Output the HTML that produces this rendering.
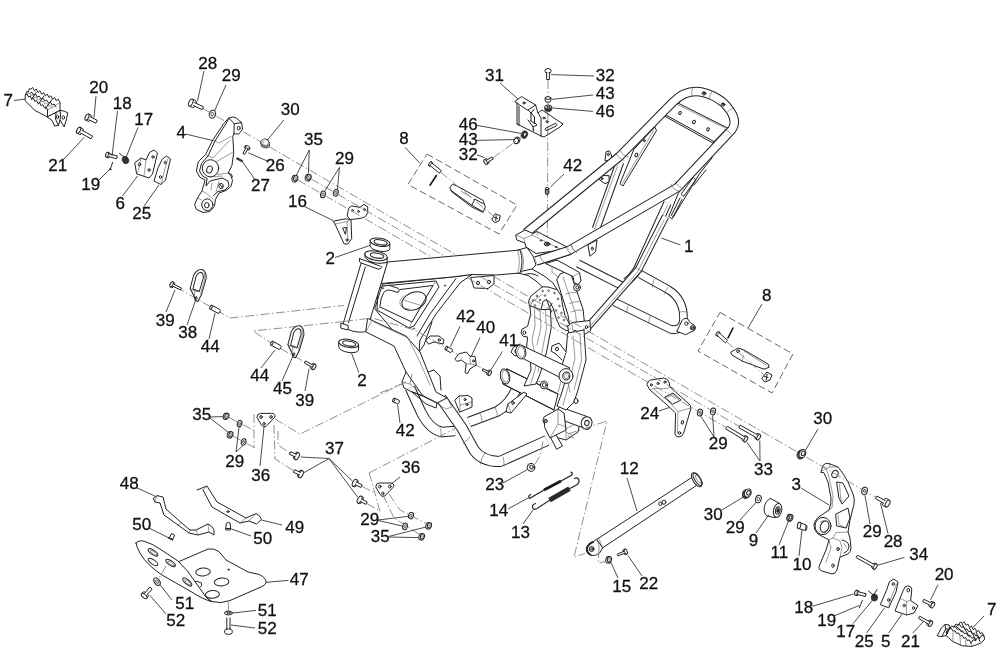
<!DOCTYPE html>
<html><head><meta charset="utf-8"><title>Frame parts diagram</title>
<style>
html,body{margin:0;padding:0;background:#fff;}
body{width:1000px;height:659px;overflow:hidden;font-family:"Liberation Sans",sans-serif;}
svg{display:block;filter:blur(.35px);}
.p{fill:none;stroke:#222;stroke-width:1;stroke-linejoin:round;stroke-linecap:round;}
.pf{fill:#fff;stroke:#222;stroke-width:1;stroke-linejoin:round;stroke-linecap:round;}
.t{fill:none;stroke:#555;stroke-width:.6;stroke-linejoin:round;stroke-linecap:round;}
.t2{fill:none;stroke:#222;stroke-width:.7;}
.k{fill:#333;stroke:#222;stroke-width:.6;}
.c{fill:none;stroke:#7c7c7c;stroke-width:.85;stroke-dasharray:9 2.5 1.5 2.5;}
.d{fill:none;stroke:#555;stroke-width:.9;stroke-dasharray:7 3.5;}
.l{fill:none;stroke:#2a2a2a;stroke-width:.85;}
text{font-family:"Liberation Sans",sans-serif;font-size:17px;fill:#111;stroke:#111;stroke-width:.28px;text-anchor:middle;}
</style></head><body>
<svg width="1000" height="659" viewBox="0 0 1000 659">
<rect width="1000" height="659" fill="#fff"/>
<g id="parts">
<path class="pf" d="M25.4 95 L26.75 91.55 L28.1 92.1 L29.45 88.65 L30.8 89.2 L32.625 87.4313 L34.45 90.8625 L36.275 89.0938 L38.1 92.525 L39.925 90.7562 L41.75 94.1875 L43.575 92.4188 L45.4 95.85 L47.225 94.0812 L49.05 97.5125 L50.875 95.7438 L52.7 99.175 L54.525 97.4062 L56.35 100.838 L58.175 99.0687 L60 102.5 L60 110.4 L52 114.5 L47.5 117 L35 110.5 L25.4 101 Z"/>
<path class="p" d="M25.4 95 L26.9786 93.8714 L28.5571 97.1429 L30.1357 96.0143 L31.7143 99.2857 L33.2929 98.1571 L34.8714 101.429 L36.45 100.3 L38.0286 103.571 L39.6071 102.443 L41.1857 105.714 L42.7643 104.586 L44.3429 107.857 L45.9214 106.729 L47.5 110"/>
<path class="p" d="M30 93.2 L31.8571 92.1857 L33.7143 95.1714 L35.5714 94.1571 L37.4286 97.1429 L39.2857 96.1286 L41.1429 99.1143 L43 98.1 L44.8571 101.086 L46.7143 100.071 L48.5714 103.057 L50.4286 102.043 L52.2857 105.029 L54.1429 104.014 L56 107"/>
<path class="t" d="M27.6 93.5 L29.3429 92.75 L31.0857 95.6 L32.8286 94.85 L34.5714 97.7 L36.3143 96.95 L38.0571 99.8 L39.8 99.05 L41.5429 101.9 L43.2857 101.15 L45.0286 104 L46.7714 103.25 L48.5143 106.1 L50.2571 105.35 L52 108.2"/>
<path class="p" d="M36 92.5 L31.5 99.5"/>
<path class="p" d="M44 96 L38.5 104"/>
<path class="p" d="M52 99.5 L45.5 108.5"/>
<path class="p" d="M47.5 110 L47.5 117"/>
<path class="t" d="M47.5 110 L60 102.5"/>
<path class="pf" d="M52 114.5 L56 112.5 L60 110.4 L64 111 L67.8 112.8 L66.5 119 L64.2 127 L60 120 L58.5 125.5 L54.6 126 L52 120.5 L47.5 117 Z"/>
<path class="p" d="M56 112.5 L55.5 119 L58.5 125.5"/>
<path class="p" d="M60 110.4 L60.5 116 L60 120"/>
<ellipse class="p" cx="57.6" cy="117" rx="1.1" ry="1.7"/>
<ellipse class="p" cx="63.4" cy="117.5" rx="1.2" ry="1.8"/>
<path class="pf" d="M85.5 120.0 L88.2 121.3 A1.5 3.3 27 0 0 91.2 115.4 L88.5 114.0"/>
<ellipse class="pf" cx="87" cy="117" rx="1.65" ry="3.3" transform="rotate(26.5651 87 117)"/>
<path class="pf" d="M89.0 119.8 L95.9 123.2 L97.3 120.4 L90.4 116.9"/>
<path class="pf" d="M77.0 133.1 L79.7 134.5 A1.5 3.3 29 0 0 82.8 128.7 L80.2 127.3"/>
<ellipse class="pf" cx="78.6" cy="130.2" rx="1.65" ry="3.3" transform="rotate(28.6105 78.6 130.2)"/>
<path class="pf" d="M80.5 133.0 L91.0 138.8 L92.6 136.0 L82.0 130.2"/>
<path class="pf" d="M106.4 157.3 L108.3 157.8 A1.2 2.6 14 0 0 109.6 152.8 L107.6 152.3"/>
<ellipse class="pf" cx="107" cy="154.8" rx="1.3" ry="2.6" transform="rotate(14.0362 107 154.8)"/>
<path class="pf" d="M108.6 156.6 L116.7 158.7 L117.3 155.9 L109.3 153.9"/>
<ellipse class="k" cx="125.5" cy="160" rx="3.2" ry="3.8" transform="rotate(-20 125.5 160)"/>
<path class="p" d="M119.5 153.5 L124 157"/>
<path class="p" d="M112.6 162.5 L111.4 166 L110 169.5"/>
<ellipse class="p" cx="110.2" cy="169.3" rx="0.7" ry="0.7"/>
<path class="pf" d="M135 162.5 L141 158 L146 160 L149.5 152.5 L154 150 L157.5 153 L152.5 174 L149 178 L137 174 Z"/>
<path class="t" d="M146 160 L144 176.2 M141 158 L139 168 L137.5 173"/>
<ellipse class="p" cx="139.5" cy="164.5" rx="1.2" ry="1.4"/>
<ellipse class="p" cx="153" cy="157" rx="1.1" ry="1.3"/>
<ellipse class="p" cx="149" cy="170" rx="1.1" ry="1.3"/>
<path class="pf" d="M162.5 159 L166.5 156 L170.5 159 L165.5 180 L161 184.5 L154 181 L158 168 Z"/>
<path class="t" d="M161 184.5 L162.5 178 L167.5 159.5"/>
<ellipse class="p" cx="165.3" cy="162.5" rx="1.1" ry="1.4"/>
<ellipse class="p" cx="160.5" cy="177" rx="1.1" ry="1.4"/>
<path class="pf" d="M189.2 106.0 L192.5 107.6 A1.7 3.8 25 0 0 195.7 100.7 L192.4 99.2"/>
<ellipse class="pf" cx="190.8" cy="102.6" rx="1.9" ry="3.8" transform="rotate(25.0169 190.8 102.6)"/>
<path class="pf" d="M193.4 105.6 L202.1 109.6 L203.5 106.8 L194.7 102.7"/>
<ellipse class="pf" cx="212.4" cy="114.2" rx="3.2" ry="4" transform="rotate(15 212.4 114.2)"/>
<ellipse class="t2" cx="212.4" cy="114.2" rx="1.44" ry="1.8" transform="rotate(15 212.4 114.2)"/>
<path class="c" d="M203 108.5 L260 141.4"/>
<path class="pf" d="M228.8 118.2 L233.2 116.9 L236.5 118.2 L241.6 122.6 L242.6 129.1 L238.7 134.1 L233.9 133.7 L232.8 136.4 L233.7 152.8 L231.9 165.6 L228.3 172.9 L231 176 L232.5 180.5 L231 186.5 L226 190.5 L219 193 L215.5 199.3 L214.5 206 L210 211.5 L203 212.5 L196.4 209.3 L194.6 204.7 L197.5 198 L201.9 191 L204 184 L205 180 L200 177.4 L196.4 171 L198.2 161.9 L205.5 154.6 L212.8 140 L223.7 123.7 Z"/>
<path class="p" d="M228.8 118.2 L226 123.5 L215 141 L208 156 L201.5 163.5 L199.5 171 L202.5 176 L207 178.5"/>
<path class="p" d="M228.8 118.2 L234.3 123.7 L241.6 122.6 M234.3 123.7 L233.9 133.7"/>
<path class="t" d="M212.8 140 L219 143 L231 136.5 M205.5 154.6 L213 158 L229 141"/>
<ellipse class="pf" cx="210.5" cy="168.3" rx="8.2" ry="8.6"/>
<ellipse class="p" cx="209.5" cy="169.5" rx="2.7" ry="3.6" transform="rotate(20 209.5 169.5)"/>
<path class="t" d="M216 162 L233 152 M217.5 174.5 L228.3 172.9 M210 177 L222 176"/>
<ellipse class="p" cx="238.7" cy="128.2" rx="1.5" ry="1.9"/>
<path class="p" d="M207 178.5 L206 186 L210 181 L222 178 L228 181 L229 186 L225 190 L218 191.5 L213.5 195.5"/>
<path class="t" d="M212 183 L211 190 M219 181 L216 192"/>
<ellipse class="p" cx="221" cy="186" rx="2.2" ry="2.6"/>
<path class="p" d="M219.5 184 L222.5 188"/>
<ellipse class="pf" cx="207.3" cy="204.7" rx="5.6" ry="5.8"/>
<ellipse class="p" cx="206.8" cy="205.2" rx="2.3" ry="2.7"/>
<path class="t" d="M201.9 191 L206 193 L213 199 M197.5 198 L201.5 200"/>
<path class="p" d="M228.5 173 L231.5 174.5 L232.5 177"/>
<path class="pf" d="M260.6 141.5 A4.6 4.6 0 0 1 269.2 142.5 L269.6 146.6 L266 148 L262 146.6 Z"/>
<path d="M260.8 142.5 L262.5 144.5 L266.2 145.6 L269.2 143 L269.6 146.6 L266 148 L262 146.6 Z" fill="#8a8a8a"/>
<path d="M261 141 A4.4 4.4 0 0 1 265 139 L263.5 144.5 Z" fill="#c8c8c8"/>
<path class="t" d="M260.6 141.5 L262.5 144.5 L266.2 145.6 L269.2 142.5 M262.5 144.5 L262 146.6 M266.2 145.6 L266 148"/>
<path class="pf" d="M245.3 145.9 L244.6 147.1 A1.2 2.6 120 0 0 249.2 149.7 L249.9 148.5"/>
<ellipse class="pf" cx="247.6" cy="147.2" rx="1.3" ry="2.6" transform="rotate(119.56 247.6 147.2)"/>
<path class="pf" d="M246.0 147.9 L242.9 153.4 L244.7 154.4 L247.8 148.9"/>
<path class="k" d="M237.2 157.6 L242.8 160.6 L242 162 L236.4 159 Z"/>
<ellipse class="pf" cx="294.7" cy="178.7" rx="2.72" ry="3.4" transform="rotate(15 294.7 178.7)"/>
<ellipse class="pf" cx="295.7" cy="178.2" rx="2.108" ry="2.72" transform="rotate(15 295.7 178.2)"/>
<ellipse class="t" cx="296" cy="178.1" rx="1.02" ry="1.36" transform="rotate(15 296 178.1)"/>
<ellipse class="pf" cx="308" cy="177.7" rx="2.72" ry="3.4" transform="rotate(15 308 177.7)"/>
<ellipse class="pf" cx="309" cy="177.2" rx="2.108" ry="2.72" transform="rotate(15 309 177.2)"/>
<ellipse class="t" cx="309.3" cy="177.1" rx="1.02" ry="1.36" transform="rotate(15 309.3 177.1)"/>
<ellipse class="pf" cx="323" cy="194.4" rx="2.4" ry="3.4" transform="rotate(15 323 194.4)"/>
<ellipse class="t2" cx="323" cy="194.4" rx="1.08" ry="1.53" transform="rotate(15 323 194.4)"/>
<ellipse class="pf" cx="335.8" cy="192.8" rx="2.4" ry="3.4" transform="rotate(15 335.8 192.8)"/>
<ellipse class="t2" cx="335.8" cy="192.8" rx="1.08" ry="1.53" transform="rotate(15 335.8 192.8)"/>
<path class="pf" d="M347.2 215.8 L348.7 208.2 L351.7 205.9 L360 207.4 L363.9 204.4 L367.7 206.7 L367.7 212.8 L365.4 216.6 L362.4 218 L351 219.6 Z"/>
<path class="pf" d="M333.5 221.1 L345.7 218.8 L351 219.6 L351.7 238.6 L347.9 243.9 L344.1 243.9 L335 224.1 Z"/>
<path class="t" d="M335 224.1 L347 221.5 L351 219.6 M347 221.5 L348 240"/>
<ellipse class="p" cx="352.5" cy="210.5" rx="0.9" ry="1.1"/>
<ellipse class="p" cx="358.5" cy="211.5" rx="0.9" ry="1.1"/>
<ellipse class="p" cx="364.5" cy="209.5" rx="0.9" ry="1.1"/>
<path class="p" d="M343 228 L346.5 227.5 L345.5 234 Z"/>
<ellipse class="p" cx="347" cy="240" rx="1" ry="1.2"/>
<path class="d" d="M427 154 L517 205 L499 234 L408 184.5 Z"/>
<path class="pf" d="M428.8 165.5 L429.7 166.2 A1.0 2.3 39 0 0 432.6 162.7 L431.6 161.9"/>
<ellipse class="pf" cx="430.2" cy="163.7" rx="1.15" ry="2.3" transform="rotate(38.7966 430.2 163.7)"/>
<path class="pf" d="M430.1 165.7 L439.4 173.1 L441.4 170.7 L432.1 163.2"/>
<path d="M436.4 175.5 L430 185.2" stroke="#111" stroke-width="1.6" fill="none" stroke-linecap="round"/>
<path class="pf" d="M450 187.5 L452.4 184.3 L457 186 L483 200.4 L485.3 206.8 L483 212.4 L471.6 206.8 L452.4 192.3 Z"/>
<path class="p" d="M450.8 190.3 L471.8 205.29999999999998 L482.4 211.3 M471.8 205.29999999999998 L474.8 199.1 L483.2 203.7"/>
<path class="t" d="M461.2 191.2 L471.2 197.2"/>
<path class="pf" d="M492.2 218.7 L495.2 213.7 L500.2 215.7 L499.2 220.7 L495.2 222.7 L493.2 221.2 Z"/>
<path class="p" d="M494.2 217.2 L497.7 218.7 M496.2 215.7 L495.7 220.7"/>
<path class="c" d="M440.4 171.9 L494.2 216.7"/>
<path class="c" d="M548 80 L547.3 243"/>
<path class="pf" d="M545 70.2 A3 1.6 0 0 1 551 70.2 L551 71.6 A3 1.6 0 0 1 545 71.6 Z"/>
<path class="pf" d="M546.6 72.5 L546.6 79.5 L549.4 79.5 L549.4 72.5"/>
<path class="pf" d="M545.2 98 L545.2 100.8 A2.8 1.4 0 0 0 550.8 100.8 L550.8 98"/>
<ellipse class="pf" cx="548" cy="98" rx="2.8" ry="1.4"/>
<path class="k" d="M544.6 107 L544.6 109.4 A3.6 2 0 0 0 551.8 109.4 L551.8 107"/>
<ellipse class="pf" cx="548.2" cy="107" rx="3.6" ry="2"/>
<ellipse class="p" cx="548.2" cy="107" rx="1.6" ry="0.9"/>
<path class="pf" d="M515 101.4 L521.6 96.6 L535.6 105 L528 110 Z"/>
<ellipse class="p" cx="524" cy="103" rx="1.3" ry="0.9"/>
<path class="p" d="M517 103 L517 124 L541 136 L544 137 L560 127 L563 124 L542 110 L538 113 L535.6 105"/>
<path class="p" d="M541 136 L541 118 L538 113 M528 110 L531 113 L531 121 M517 124 L519 125.5 L519 106 M531 113 L534 109.5 M531 121 L534.5 123.5 L534.5 117 L531 113"/>
<path class="p" d="M546 128 L555 123.6 A1.3 1.3 0 0 1 556 126 L547 130.4 A1.3 1.3 0 0 1 546 128"/>
<ellipse class="p" cx="544" cy="118" rx="1.2" ry="0.9"/>
<ellipse class="p" cx="547" cy="121.6" rx="1.2" ry="0.9"/>
<path class="p" d="M528 120 L533 127 L537 125 L534 122 M533 127 L533.5 130.5"/>
<path d="M532.5 128 L534.5 131 L533 131.6 Z" fill="#222"/>
<ellipse class="k" cx="524.4" cy="134.6" rx="3.1" ry="3.9" transform="rotate(20 524.4 134.6)"/>
<ellipse class="pf" cx="524.8" cy="134.4" rx="1.5" ry="2" transform="rotate(20 524.8 134.4)"/>
<ellipse class="pf" cx="517.2" cy="140.2" rx="2.6" ry="3.1" transform="rotate(20 517.2 140.2)"/>
<ellipse class="pf" cx="516.2" cy="140.8" rx="2.3" ry="2.8" transform="rotate(20 516.2 140.8)"/>
<path class="pf" d="M486.9 164.3 L488.8 163.3 A1.2 2.7 -30 0 0 486.2 158.6 L484.3 159.7"/>
<ellipse class="pf" cx="485.6" cy="162" rx="1.35" ry="2.7" transform="rotate(-29.7449 485.6 162)"/>
<path class="pf" d="M488.1 162.0 L493.2 159.0 L492.0 157.0 L486.9 159.9"/>
<path class="c" d="M493 157.8 L521 137.5"/>
<path d="M545.4 188.5 L545.4 193.5 A1.7 1 0 0 0 548.8 193.5 L548.8 188.5Z" fill="#888" stroke="#222" stroke-width="1"/>
<ellipse class="pf" cx="547.1" cy="188.5" rx="1.7" ry="1"/>
<path class="pf" d="M605 160.4 L606 151.9 L609.3 150.8 L611.4 155 L612 160 Z"/>
<ellipse class="p" cx="608.3" cy="154.5" rx="0.9" ry="1.4"/>
<path class="pf" d="M599.7 176 L599.7 180 L605 183.7 L609.3 181.6 L609 176 Z"/>
<ellipse class="p" cx="602" cy="178.6" rx="0.9" ry="1.2"/>
<path d="M620 162 L596 229" fill="none" stroke="#222" stroke-width="8.6" stroke-linejoin="round"/>
<path d="M620 162 L596 229" fill="none" stroke="#fff" stroke-width="6.6" stroke-linejoin="round"/>
<path class="t" d="M617.5 166 L594.5 229"/>
<path class="pf" d="M588.3 244.5 L597 240 L595.5 251.7 L590.2 256 Z"/>
<ellipse class="p" cx="592.3" cy="248.5" rx="1" ry="1.5"/>
<path class="pf" d="M655 127.4 L656.5 130.6 L623 186 L620 183.7 L633.7 149.7 Z"/>
<ellipse class="p" cx="644.3" cy="140.6" rx="0.9" ry="1.2"/>
<ellipse class="p" cx="636.3" cy="155" rx="1.3" ry="1.9" transform="rotate(25 636.3 155)"/>
<path class="t" d="M654 130 L622.5 183.5"/>
<path class="pf" d="M675 101.5 L727.5 128 L714 141.5 L664 114 Z"/>
<path class="p" d="M664 115.8 L713 143 L714 141.5"/>
<path class="t" d="M677.5 104.5 L724 127.5"/>
<ellipse class="p" cx="680" cy="113" rx="1.2" ry="1.6" transform="rotate(30 680 113)"/>
<ellipse class="p" cx="694" cy="122" rx="1.3" ry="1.8" transform="rotate(30 694 122)"/>
<ellipse class="p" cx="708" cy="129.4" rx="1.2" ry="1.6" transform="rotate(30 708 129.4)"/>
<path class="pf" d="M712 158 L700 173 L672 219 L668.8 216.6 L678.3 193.3 L700 160 Z"/>
<path class="p" d="M706 170 L694 185 M693 178 A2 2 0 0 1 695.5 180 L684 196 A2 2 0 0 1 681.5 194 Z"/>
<path class="p" d="M680 198 L671.5 215 A1.2 1.2 0 0 0 673.5 216 L682 199.5"/>
<path d="M667.5 203 L637 270 Q633 277 626 282" fill="none" stroke="#222" stroke-width="8.6" stroke-linejoin="round"/>
<path d="M667.5 203 L637 270 Q633 277 626 282" fill="none" stroke="#fff" stroke-width="6.6" stroke-linejoin="round"/>
<path class="t" d="M667.5 205 L640 266"/>
<path d="M526 233 L619.5 156.5 L673 102 C680 95 688 91.5 696 91.5 C706 91.5 720 98 727 106.5 C733 113.5 737 122 732 129.5 L677.5 187.5 L569 250.5 L536 261" fill="none" stroke="#222" stroke-width="9.4" stroke-linejoin="round"/>
<path d="M526 233 L619.5 156.5 L673 102 C680 95 688 91.5 696 91.5 C706 91.5 720 98 727 106.5 C733 113.5 737 122 732 129.5 L677.5 187.5 L569 250.5 L536 261" fill="none" stroke="#fff" stroke-width="7.4" stroke-linejoin="round"/>
<path class="t" d="M615.5 153.5 Q619 159 624 160.5 M619.5 150 Q623 156 628 157"/>
<path class="t" d="M671 184 Q673 190 679.5 191.5 M675.5 181.5 Q677.5 187 683.5 189"/>
<path class="t" d="M566 246.5 Q567.5 252 571.5 254.5 M571 245 Q572.5 250.5 576.5 252.5"/>
<path class="t" d="M692.5 88.5 Q691 92 692 95.5 M712 91.5 Q709 95 709.5 98.5 M733 108 Q729 109.5 727 112.5 M731 134 Q728 130 724.5 129"/>
<ellipse class="pf" cx="704" cy="93.4" rx="1.9" ry="1.6"/>
<ellipse class="p" cx="704" cy="93" rx="1" ry="0.8"/>
<ellipse class="pf" cx="723" cy="104.6" rx="1.9" ry="1.6"/>
<ellipse class="p" cx="723" cy="104.2" rx="1" ry="0.8"/>
<path d="M640 274 L668 289.5 Q684 299 683.5 319 Q683 331 671 329.5 L614.5 302" fill="none" stroke="#222" stroke-width="8.6" stroke-linejoin="round"/>
<path d="M640 274 L668 289.5 Q684 299 683.5 319 Q683 331 671 329.5 L614.5 302" fill="none" stroke="#fff" stroke-width="6.6" stroke-linejoin="round"/>
<path class="t" d="M654 279.5 Q652 283 652.5 287 M668 287.5 Q665 290 664.5 294 M650 316.5 Q648.5 319.5 649 323.5 M628 306 Q626.5 309 627 312.5 M686.5 312 Q683 311 679.5 312"/>
<path class="pf" d="M677 331 L682 320.5 A4 4 0 0 1 689.5 322 L694 325 A3.6 3.6 0 0 1 692 331.5 L686 334.5 Z"/>
<ellipse class="p" cx="686.4" cy="323.6" rx="1.7" ry="1.7"/>
<ellipse class="pf" cx="692.4" cy="327.8" rx="2.1" ry="2.1"/>
<ellipse class="p" cx="692.4" cy="327.8" rx="1" ry="1"/>
<path d="M578 263.5 L622 285.8" fill="none" stroke="#222" stroke-width="8.4" stroke-linejoin="round"/>
<path d="M578 263.5 L622 285.8" fill="none" stroke="#fff" stroke-width="6.4" stroke-linejoin="round"/>
<path d="M665.5 216.5 L638.5 269.5 L587 328" fill="none" stroke="#222" stroke-width="7.6" stroke-linejoin="round"/>
<path d="M665.5 216.5 L638.5 269.5 L587 328" fill="none" stroke="#fff" stroke-width="5.6" stroke-linejoin="round"/>
<path class="t" d="M664 220 L637.5 272 L589.5 327"/>
<path class="t" d="M634 266 Q638 268.5 642.5 272"/>
<path class="pf" d="M528.6 301 L531 296 L536 292 L542.4 286.8 L548 287 L557.2 289.7 L561.1 295.6 L562.5 305 L565 315.4 L571 327 L567 331 L560 327 L556 318 L553.5 309 L550.5 302.8 L546.5 299.6 L543 301.5 L541 309.6 L536 309 L530 306.5 Z"/>
<path class="p" d="M546.5 299.6 L549.5 307 L551.5 312 M549.5 307 L552 303.5"/>
<path class="t" d="M528.6 301 L531.5 303 L536.5 298.5 L542 294.5 M531.5 303 L530 306.5"/>
<ellipse class="t2" cx="533" cy="300.5" rx="0.85" ry="0.85"/>
<ellipse class="t2" cx="537" cy="296" rx="0.85" ry="0.85"/>
<ellipse class="t2" cx="542.6" cy="291" rx="0.85" ry="0.85"/>
<ellipse class="t2" cx="548.5" cy="290.6" rx="0.85" ry="0.85"/>
<ellipse class="t2" cx="554.5" cy="293" rx="0.85" ry="0.85"/>
<ellipse class="t2" cx="558" cy="299" rx="0.85" ry="0.85"/>
<ellipse class="t2" cx="559.5" cy="306" rx="0.85" ry="0.85"/>
<ellipse class="t2" cx="561.5" cy="313" rx="0.85" ry="0.85"/>
<ellipse class="t2" cx="564" cy="320" rx="0.85" ry="0.85"/>
<ellipse class="t2" cx="567" cy="326" rx="0.85" ry="0.85"/>
<ellipse class="t2" cx="535" cy="305.5" rx="0.85" ry="0.85"/>
<ellipse class="t2" cx="545" cy="295.5" rx="0.85" ry="0.85"/>
<ellipse class="t2" cx="540" cy="300" rx="0.85" ry="0.85"/>
<ellipse class="t2" cx="556" cy="310.5" rx="0.85" ry="0.85"/>
<ellipse class="t2" cx="558.5" cy="317.5" rx="0.85" ry="0.85"/>
<path class="p" d="M516 272.5 L528 275.5 L536 281 L542.4 286.8 M532 269 L545 276.5 L553 283 L557.2 289.7 M524 274.5 Q532 272 538 276"/>
<path class="pf" d="M557 279.5 L560 274 L567 271.5 L570.5 273 L583 309 L584.5 323 L581 327 L572 328.5 L569.5 325 L568 315 Z"/>
<path class="t" d="M563 277 L575.5 313 L577 327 M566 294 Q571 292 576 292.5 M569.5 303.5 Q574.5 301 580 301.5 M571 312 Q576 309.5 583 310"/>
<ellipse class="pf" cx="577" cy="287.4" rx="3.4" ry="3.6"/>
<ellipse class="p" cx="577.3" cy="287.4" rx="1.5" ry="1.7"/>
<path class="pf" d="M546 263.5 L557 260 L579.5 272.5 L581 281 L578 284.5 L574 282.5 L573 276.5 L552 266.5 Z"/>
<path class="t" d="M573 276.5 L579.5 272.5 M552 266.5 L552 272 L558 277"/>
<path class="pf" d="M568 326 L572 322.5 L590 320.5 L590.5 331 L579 337.5 L569 333 Z"/>
<path class="t" d="M572 322.5 L572.5 329.5 L579 332 L590.5 326 M579 332 L579 337.5"/>
<ellipse class="p" cx="586.5" cy="327" rx="1.2" ry="1.5"/>
<ellipse class="p" cx="575" cy="331.5" rx="0.9" ry="1.1"/>
<path class="pf" d="M518 250 L527 247.5 L533 256 L536 265 L532 269 L516 272.5 Z"/>
<path class="pf" d="M516 235 L525 230 L533 233.5 L537 231.5 L567 247 L565.5 254 L558 250.5 L536 253.5 L526 247 L525 243 L517 240 Z"/>
<path class="t" d="M516 235 L524 238.5 L525 243 M524 238.5 L532 235 L533 233.5 M532 235 L560 249 M537 231.5 L537.5 235"/>
<ellipse class="p" cx="547" cy="244" rx="2.8" ry="1.9"/>
<ellipse class="p" cx="547" cy="244.2" rx="1.4" ry="0.9"/>
<ellipse class="p" cx="541" cy="240.5" rx="0.8" ry="0.6"/>
<ellipse class="p" cx="556" cy="247" rx="0.8" ry="0.6"/>
<path d="M569 250.5 L536 261" fill="none" stroke="#222" stroke-width="9.4" stroke-linejoin="round"/>
<path d="M569 250.5 L536 261" fill="none" stroke="#fff" stroke-width="7.4" stroke-linejoin="round"/>
<path class="t" d="M566 246.5 Q567.5 252 571.5 254.5 M571 245 Q572.5 250.5 576.5 252.5 M540 256 Q541 261 544.5 262.5"/>
<path class="pf" d="M383 284 L452 277 L472 274.5 L460 283 L436 314 L420 340 L419 352 L409 350 L375 309 Z"/>
<path class="p" d="M456 278.5 L430 314 L417 336"/>
<path class="p" d="M383 286 L436 281 L439 287 L414 326 L409 328 L377 310 L378 290 Z"/>
<path class="p" d="M400 289.5 L433 285.5 L412 322 L380 307"/>
<path class="t" d="M383 286 L389 285.2 M377 310 L380 307 M436 281 L433 285.5 M409 328 L412 322"/>
<ellipse class="p" cx="414" cy="301" rx="12.6" ry="8.6" transform="rotate(-22 414 301)"/>
<path class="t" d="M403.5 300 L421 305.5"/>
<path class="t" d="M404 295.5 A12 8 -22 0 0 409 309"/>
<path class="p" d="M389 285.2 L398 288.3 A1.5 2 0 0 1 397 292.3 L391.5 290.5 Q386 289 383.5 293 L381 299 L380 306"/>
<ellipse class="k" cx="445" cy="285.6" rx="0.7" ry="0.7"/>
<ellipse class="k" cx="383" cy="288.2" rx="0.6" ry="0.6"/>
<ellipse class="k" cx="414" cy="328.5" rx="0.6" ry="0.6"/>
<path class="pf" d="M471 277.5 L494 275.5 L494 284 L488 288.5 L474.5 288 Z"/>
<ellipse class="p" cx="478" cy="283" rx="1.5" ry="1.8"/>
<ellipse class="p" cx="489" cy="282" rx="1.5" ry="1.8"/>
<path class="pf" d="M387.5 262 L520 250 Q524 261 520 273 L496 275 L472 274.5 L452 277 L381.5 283.5 Z"/>
<path class="t" d="M521 250.3 Q526 261 521.5 272.5 M517.5 250.5 Q521.5 261 517.5 273"/>
<path class="pf" d="M361.3 262.5 L343.2 323.5 Q344 329 354 331.5 Q363 333 366.6 331 L387.3 263 Z"/>
<path class="p" d="M365.3 267 L348.5 322.5"/>
<path class="pf" d="M341.2 323.2 L348.2 325.6 L348.2 330 L341.2 328.2 Z"/>
<path class="pf" d="M359.6 258.6 Q358.4 261.5 360.5 262.8 L378.5 269.2 Q381 269.5 381.8 266.5"/>
<path class="p" d="M359.6 258.6 L380 266"/>
<path class="pf" d="M364.8 253.5 L365 257.5 Q372 265.5 387 262.5 L387.3 258"/>
<ellipse class="pf" cx="376" cy="255.7" rx="11.4" ry="4.6" transform="rotate(10 376 255.7)"/>
<ellipse class="p" cx="377" cy="255.6" rx="6.8" ry="2.5" transform="rotate(10 377 255.6)"/>
<path class="t" d="M371 256.6 Q377 259.6 383.5 257.5"/>
<path class="pf" d="M370.15 240.46 L370.15 245.46 A10 4 10 0 0 389.85 248.94 L389.85 243.94 Z"/>
<ellipse class="pf" cx="380" cy="242.2" rx="10" ry="4" transform="rotate(10 380 242.2)"/>
<ellipse class="p" cx="380.6" cy="242.4" rx="6.6" ry="2.5" transform="rotate(10 380.6 242.4)"/>
<path class="t" d="M374.6 242.8 Q381 246.6 387.2 243.8"/>
<path class="pf" d="M338.75 341.66 L338.75 346.66 A10 4 10 0 0 358.45 350.14 L358.45 345.14 Z"/>
<ellipse class="pf" cx="348.6" cy="343.4" rx="10" ry="4" transform="rotate(10 348.6 343.4)"/>
<ellipse class="p" cx="349.2" cy="343.6" rx="6.6" ry="2.5" transform="rotate(10 349.2 343.6)"/>
<path class="t" d="M343.2 344 Q349.6 347.8 355.8 345"/>
<path d="M410 388 L421 412 Q430 430 442 432 L455 431" fill="none" stroke="#222" stroke-width="10.6" stroke-linejoin="round"/>
<path d="M410 388 L421 412 Q430 430 442 432 L455 431" fill="none" stroke="#fff" stroke-width="8.6" stroke-linejoin="round"/>
<path d="M469 422 L497 411.5 Q513 403 521 377" fill="none" stroke="#222" stroke-width="10.6" stroke-linejoin="round"/>
<path d="M469 422 L497 411.5 Q513 403 521 377" fill="none" stroke="#fff" stroke-width="8.6" stroke-linejoin="round"/>
<path class="t" d="M440 427.5 Q442 432 441 437 M480 413.5 Q482.5 418 482 422.5 M495 407.5 Q497.5 412 497.5 416"/>
<path d="M441 398 L462 428 L474 450 Q482 461.5 500 461.5 L547 440.5" fill="none" stroke="#222" stroke-width="11.2" stroke-linejoin="round"/>
<path d="M441 398 L462 428 L474 450 Q482 461.5 500 461.5 L547 440.5" fill="none" stroke="#fff" stroke-width="9.2" stroke-linejoin="round"/>
<path class="t" d="M470 437 Q466 440 463.5 444 M484.5 453.5 Q481 458.5 480.5 464 M503 457 Q504.5 461.5 504 466"/>
<path class="pf" d="M543 420 L554 413 L560 415 L580 422 L578 432 L566 440 L551 436 Z"/>
<path class="t" d="M554 413 L556 424 L566 428.5 L580 422 M556 424 L551 436 M566 428.5 L566 440"/>
<path class="pf" d="M547 430 L552 428 L562.5 446 L557 449 Z"/>
<ellipse class="p" cx="546" cy="421" rx="1.2" ry="1.5"/>
<path class="t" d="M566 432 L572 435 M568 436 L574 438"/>
<path class="pf" d="M560 407 L587 416.5 L588 429.5 L566 421.5 L556 412 Z"/>
<ellipse class="pf" cx="586.6" cy="423" rx="5.4" ry="6.2" transform="rotate(15 586.6 423)"/>
<ellipse class="p" cx="586.9" cy="423" rx="2.2" ry="2.6" transform="rotate(15 586.9 423)"/>
<path class="pf" d="M507 369 L558 394 L554 410 L503 384 Z"/>
<ellipse class="pf" cx="505" cy="376.5" rx="4.6" ry="7.6" transform="rotate(-12 505 376.5)"/>
<path class="p" d="M507 369 L558 394 M503 384 L554 410"/>
<ellipse class="t" cx="505.4" cy="376.3" rx="3.2" ry="6" transform="rotate(-12 505.4 376.3)"/>
<path class="pf" d="M530 306 L530.6 314.4 L527.6 326.2 L522 329.2 L521 333 L523.3 336.4 L527.6 337 L526.6 347 L530 356 L531 370 L524 386 L536 384 L540 374 L546.4 352.8 L551.3 327.2 L550.3 309.4 L541 309.6 Z"/>
<path class="t" d="M534.5 310 L535 326 L532 340 L534.5 352 L536 366 L531 383 M545.5 310 L546.5 328 L542 352 L538 372 M540 310 L541 327 L537 345"/>
<ellipse class="p" cx="524.4" cy="332.6" rx="1.4" ry="1.8"/>
<ellipse class="pf" cx="544" cy="385" rx="3.6" ry="3.9"/>
<ellipse class="p" cx="544.3" cy="385" rx="1.9" ry="2.2"/>
<path class="t" d="M536 382 L540 381.5 M546 388.5 L552 392"/>
<path class="pf" d="M568 333 L584 330 L586 360 L578 390 L574 402 L566 410 L557 406 L562 392 L566 378 L560 372 L566 352 Z"/>
<path class="t" d="M573 336 L575 358 L569 384 L563 405 M580 334 L581.5 360 L574 390"/>
<path class="pf" d="M566 352 L559 343 L552 346 L551 351 L556 354 L562 360"/>
<ellipse class="p" cx="557" cy="349" rx="1.5" ry="1.8"/>
<path class="pf" d="M520 344 L513.5 347 L511 352 L515 356 L522 354"/>
<ellipse class="p" cx="516" cy="351.5" rx="1.2" ry="1.5"/>
<path class="pf" d="M523 346 L570 368 L560 377.5 L522 358 Z"/>
<ellipse class="pf" cx="520.8" cy="352" rx="5" ry="7" transform="rotate(-12 520.8 352)"/>
<ellipse class="t" cx="521.2" cy="352" rx="3.4" ry="5.4" transform="rotate(-12 521.2 352)"/>
<ellipse class="pf" cx="566" cy="376" rx="7" ry="7.4"/>
<ellipse class="p" cx="566.3" cy="376" rx="3.6" ry="4" transform="rotate(10 566.3 376)"/>
<ellipse class="t" cx="566.5" cy="376" rx="2.3" ry="2.7" transform="rotate(10 566.5 376)"/>
<path class="t" d="M568 383 L570 392 M561 381.5 L558 392"/>
<ellipse class="pf" cx="576" cy="401" rx="2" ry="2.6"/>
<path class="pf" d="M544 417 L558 409 L564 413 L566 430 L550 438 L545 428 Z"/>
<ellipse class="p" cx="546" cy="421" rx="1.3" ry="1.6"/>
<path class="t" d="M558 409 L558 424 L550 438 M558 424 L566 427"/>
<path class="pf" d="M508 404 L524 392 L527 394 L511 413 L506.5 412 Z"/>
<ellipse class="p" cx="513" cy="403" rx="1.2" ry="1.5"/>
<path class="t" d="M508 404 L511 413"/>
<path class="pf" d="M368 318.5 L406 336 L420 352 L428 372 L436 392 L447 398 L437 403 L423 396 L406 372 L394 346 L366 332 Z"/>
<path class="t" d="M374 322 L408 338 L419 360 L430 385 M366 332 L372 320"/>
<path class="p" d="M419 352 L424 345 L432 322 M406 372 L402 382 L404 388 L412 392 L423 396 M428 372 L434 370 L440 376 L441 390"/>
<path class="t" d="M402 382 L410 384 L420 392 M410 384 L412 374"/>
<path class="p" d="M412 392 L426 404 L436 408 L437 403 L423 396 Z"/>
<path class="t" d="M430 399 L446 409 L452 407 L447 398"/>
<path class="pf" d="M426 340 L430 336 L439 336 L444 340 L443 344 L434 342 L429 344 Z"/>
<ellipse class="p" cx="439.3" cy="340" rx="1.1" ry="1.3"/>
<path class="pf" d="M455 400 L459 396 L468 395.5 L472 398 L472 407 L460 412 Z"/>
<path class="t" d="M459 396 L460 405 L472 402 M460 405 L460 412"/>
<ellipse class="p" cx="465" cy="399.5" rx="1" ry="1.2"/>
<ellipse class="p" cx="467" cy="404.5" rx="1" ry="1.2"/>
<path class="c" d="M176 287 L230 318 L344 305.5"/>
<path class="c" d="M344 321.5 L253 331 L274 345 L312 366"/>
<path class="c" d="M344 321.5 L372 318 L415 330 L490 373"/>
<path class="pf" d="M170.4 286.9 L171.8 287.6 A1.3 2.8 26 0 0 174.3 282.6 L172.8 281.9"/>
<ellipse class="pf" cx="171.6" cy="284.4" rx="1.4" ry="2.8" transform="rotate(26.0754 171.6 284.4)"/>
<path class="pf" d="M172.6 286.1 L180.5 290.0 L181.5 288.0 L173.5 284.1"/>
<g transform="translate(195.3 300.5) skewX(-6) translate(-195.3 -300.5)">
<path class="pf" d="M188.9 288.5 L190.9 275.5 Q193.3 269.0 198.8 269.5 Q203.3 271.0 203.9 278.5 L200.9 294.5 L197.9 301.5 L195.3 300.5 L193.8 296.5 Z"/>
<path class="p" d="M191.7 289.0 L193.5 276.5 Q195.3 272.0 198.3 272.5 Q200.9 273.5 200.9 278.5 L198.3 291.5 Z"/>
<path class="t" d="M188.9 288.5 L193.8 291.0 L198.3 291.5 M193.8 291.0 L193.8 296.5 M201.3 272.5 Q202.7 275.5 202.3 280.5 L199.9 293.5"/>
<ellipse class="p" cx="195.9" cy="298" rx="1" ry="1.3"/>
</g>
<g transform="translate(293 356.8) skewX(-6) translate(-293 -356.8)">
<path class="pf" d="M286.6 344.8 L288.6 331.8 Q291 325.3 296.5 325.8 Q301 327.3 301.6 334.8 L298.6 350.8 L295.6 357.8 L293 356.8 L291.5 352.8 Z"/>
<path class="p" d="M289.4 345.3 L291.2 332.8 Q293 328.3 296 328.8 Q298.6 329.8 298.6 334.8 L296 347.8 Z"/>
<path class="t" d="M286.6 344.8 L291.5 347.3 L296 347.8 M291.5 347.3 L291.5 352.8 M299 328.8 Q300.4 331.8 300 336.8 L297.6 349.8"/>
<ellipse class="p" cx="293.6" cy="354.3" rx="1" ry="1.3"/>
</g>
<path class="pf" d="M210.0 309.0 L218.0 313.3 A1.1 2.1 28 0 0 220.0 309.6 L212.0 305.3"/>
<ellipse class="pf" cx="211.027" cy="307.187" rx="1.05" ry="2.1" transform="rotate(28 211.027 307.187)"/>
<path class="pf" d="M270.8 345.0 L278.8 349.3 A1.1 2.1 28 0 0 280.8 345.6 L272.8 341.3"/>
<ellipse class="pf" cx="271.827" cy="343.187" rx="1.05" ry="2.1" transform="rotate(28 271.827 343.187)"/>
<path class="pf" d="M315.5 364.4 L313.7 363.4 A1.4 3.0 -151 0 0 310.8 368.7 L312.5 369.6"/>
<ellipse class="pf" cx="314" cy="367" rx="1.5" ry="3" transform="rotate(-150.945 314 367)"/>
<path class="pf" d="M312.8 365.0 L305.6 361.0 L304.4 363.0 L311.7 367.1"/>
<path class="pf" d="M445.3 349.6 L450.4 352.6 A0.9 1.9 30 0 0 452.3 349.4 L447.2 346.4"/>
<ellipse class="pf" cx="446.202" cy="348" rx="0.95" ry="1.9" transform="rotate(30 446.202 348)"/>
<path class="pf" d="M455 358.8 L458.8 353.8 L466.3 352 L470 356.3 L475 356.3 L476.3 365 L470 368.8 L467.5 373.8 L465 372.5 L466.3 363.8 L461.3 360 L457.5 361.3 Z"/>
<path class="t" d="M470 356.3 L470.5 364 L466.3 363.8 M470.5 364 L476.3 365"/>
<ellipse class="p" cx="473.5" cy="361" rx="0.9" ry="1.1"/>
<path class="pf" d="M490.9 370.9 L489.2 370.0 A1.2 2.6 -154 0 0 486.9 374.6 L488.7 375.5"/>
<ellipse class="pf" cx="489.8" cy="373.2" rx="1.3" ry="2.6" transform="rotate(-153.75 489.8 373.2)"/>
<path class="pf" d="M488.4 371.4 L482.9 368.7 L482.1 370.5 L487.6 373.2"/>
<path class="pf" d="M392.9 401.7 L397.5 403.8 A0.9 1.9 25 0 0 399.1 400.3 L394.5 398.2"/>
<ellipse class="pf" cx="393.734" cy="399.943" rx="0.95" ry="1.9" transform="rotate(25 393.734 399.943)"/>
<ellipse class="pf" cx="225.9" cy="416.3" rx="2.64" ry="3.3" transform="rotate(15 225.9 416.3)"/>
<ellipse class="pf" cx="226.9" cy="415.8" rx="2.046" ry="2.64" transform="rotate(15 226.9 415.8)"/>
<ellipse class="t" cx="227.2" cy="415.7" rx="0.99" ry="1.32" transform="rotate(15 227.2 415.7)"/>
<ellipse class="pf" cx="229.9" cy="434.9" rx="2.64" ry="3.3" transform="rotate(15 229.9 434.9)"/>
<ellipse class="pf" cx="230.9" cy="434.4" rx="2.046" ry="2.64" transform="rotate(15 230.9 434.4)"/>
<ellipse class="t" cx="231.2" cy="434.3" rx="0.99" ry="1.32" transform="rotate(15 231.2 434.3)"/>
<ellipse class="pf" cx="239.6" cy="423.6" rx="2.3" ry="3.3" transform="rotate(15 239.6 423.6)"/>
<ellipse class="t2" cx="239.6" cy="423.6" rx="1.035" ry="1.485" transform="rotate(15 239.6 423.6)"/>
<ellipse class="pf" cx="243.6" cy="442" rx="2.3" ry="3.3" transform="rotate(15 243.6 442)"/>
<ellipse class="t2" cx="243.6" cy="442" rx="1.035" ry="1.485" transform="rotate(15 243.6 442)"/>
<path class="c" d="M229 417.5 L254 430.5"/>
<path class="c" d="M233 436 L254 447.5"/>
<path class="c" d="M254 414 L254 448"/>
<path class="pf" d="M257 417.0 Q257 413.4 260.5 413.4 L271.5 413.4 Q275.5 413.4 275 417.0 L266 426.4 Q263 427.9 261.6 425.4 Z"/>
<ellipse class="p" cx="261" cy="417" rx="1.2" ry="1.5"/>
<ellipse class="p" cx="271" cy="417" rx="1.2" ry="1.5"/>
<ellipse class="p" cx="264" cy="423.8" rx="1.1" ry="1.4"/>
<path class="pf" d="M375.8 486.6 Q375.8 483 379.3 483 L390.3 483 Q394.3 483 393.8 486.6 L384.8 496 Q381.8 497.5 380.4 495 Z"/>
<ellipse class="p" cx="379.8" cy="486.6" rx="1.2" ry="1.5"/>
<ellipse class="p" cx="389.8" cy="486.6" rx="1.2" ry="1.5"/>
<ellipse class="p" cx="382.8" cy="493.4" rx="1.1" ry="1.4"/>
<path class="c" d="M275 419 L300 434 L406 382"/>
<path class="c" d="M274 425 L275 459 L294 471"/>
<path class="c" d="M278 431 L278 445 L290 453"/>
<path class="pf" d="M298.6 452.7 L297.2 452.1 A1.7 3.8 -155 0 0 294.1 459.0 L295.4 459.7"/>
<ellipse class="pf" cx="297" cy="456.2" rx="1.9" ry="3.8" transform="rotate(-155.433 297 456.2)"/>
<path class="pf" d="M296.2 454.3 L290.6 451.7 L289.4 454.3 L295.1 456.8"/>
<path class="pf" d="M302.6 470.7 L301.2 470.1 A1.7 3.8 -155 0 0 298.1 477.0 L299.4 477.7"/>
<ellipse class="pf" cx="301" cy="474.2" rx="1.9" ry="3.8" transform="rotate(-155.433 301 474.2)"/>
<path class="pf" d="M300.2 472.3 L294.6 469.7 L293.4 472.3 L299.1 474.8"/>
<path class="pf" d="M352.9 486.2 L354.3 486.9 A1.7 3.8 26 0 0 357.6 480.1 L356.3 479.4"/>
<ellipse class="pf" cx="354.6" cy="482.8" rx="1.9" ry="3.8" transform="rotate(26.2319 354.6 482.8)"/>
<path class="pf" d="M355.3 484.7 L360.9 487.5 L362.1 484.9 L356.6 482.2"/>
<path class="pf" d="M357.8 503.0 L359.2 503.7 A1.7 3.8 28 0 0 362.7 496.9 L361.4 496.2"/>
<ellipse class="pf" cx="359.6" cy="499.6" rx="1.9" ry="3.8" transform="rotate(27.5528 359.6 499.6)"/>
<path class="pf" d="M360.3 501.5 L365.9 504.4 L367.1 502.0 L361.6 499.1"/>
<path class="c" d="M369 473 L456 428"/>
<path class="c" d="M369 473 L372 482 L380 512"/>
<path class="c" d="M362 486.4 L375 493"/>
<path class="c" d="M367 503.6 L380 511"/>
<path class="c" d="M389 494 L400 510 L429 525"/>
<path class="c" d="M383 495 L394 518 L422 536"/>
<ellipse class="pf" cx="411" cy="515.6" rx="2.4" ry="3.3" transform="rotate(15 411 515.6)"/>
<ellipse class="t2" cx="411" cy="515.6" rx="1.08" ry="1.485" transform="rotate(15 411 515.6)"/>
<ellipse class="pf" cx="405" cy="526.4" rx="2.4" ry="3.3" transform="rotate(15 405 526.4)"/>
<ellipse class="t2" cx="405" cy="526.4" rx="1.08" ry="1.485" transform="rotate(15 405 526.4)"/>
<ellipse class="pf" cx="428.5" cy="525.9" rx="2.64" ry="3.3" transform="rotate(15 428.5 525.9)"/>
<ellipse class="pf" cx="429.5" cy="525.4" rx="2.046" ry="2.64" transform="rotate(15 429.5 525.4)"/>
<ellipse class="t" cx="429.8" cy="525.3" rx="0.99" ry="1.32" transform="rotate(15 429.8 525.3)"/>
<ellipse class="pf" cx="421.5" cy="536.9" rx="2.64" ry="3.3" transform="rotate(15 421.5 536.9)"/>
<ellipse class="pf" cx="422.5" cy="536.4" rx="2.046" ry="2.64" transform="rotate(15 422.5 536.4)"/>
<ellipse class="t" cx="422.8" cy="536.3" rx="0.99" ry="1.32" transform="rotate(15 422.8 536.3)"/>
<path class="c" d="M380 393 L406 382"/>
<path class="pf" d="M197 490 L207 486 L217 502 L246 518 L256 513.6 Q260 515 261.5 519.5 L256.5 524 L249 521 L240 523 L212 507 L203 490"/>
<path class="t" d="M207 486 L203 490 M246 518 L240 523 M256 513.6 L249 521"/>
<ellipse class="p" cx="228" cy="511.6" rx="1.3" ry="0.8"/>
<path class="pf" d="M153.6 498 L157 495.6 L163 497 L166 509 L181 522.4 L190 530 L196 530 L208 524 Q212.5 526 214 530 L214 535 L209 532 L198 535 L189 533 L178 525 L164 515 L160 503 L155 502 Z"/>
<path class="t" d="M157 495.6 L155.5 498.5 L155 502 M181 522.4 L178 525 M190 530 L189 533 M196 530 L198 535 M208 524 L209 532"/>
<path class="pf" d="M169.5 537.5 L171.5 533.5 L174.5 535 L173 539 Z"/>
<path d="M168.3 537 L173.4 539.6 L172.8 540.8 L167.8 538.2Z" fill="#222"/>
<path class="pf" d="M226.6 523 Q228.4 521.5 230.2 523 L230.6 528.5 L226.2 528.5 Z"/>
<path class="pf" d="M225.8 528.5 L231 528.5 L230.4 530 L226.4 530 Z"/>
<path class="pf" d="M179 561.6 L208 549 Q214 548 219 551.6 L226 560 L248 572 L259 574.4 Q266.5 578 266 582.5 Q265.5 585 262 586.5 L230 600.5 Q221 604 212 601.6 Q203 598 196 586 Z"/>
<ellipse class="p" cx="203" cy="572" rx="7.3" ry="3.9" transform="rotate(-4 203 572)"/>
<ellipse class="p" cx="221.6" cy="582" rx="7.3" ry="3.9" transform="rotate(-4 221.6 582)"/>
<ellipse class="p" cx="212.4" cy="594.4" rx="7" ry="3.8" transform="rotate(-4 212.4 594.4)"/>
<path class="p" d="M193 581.6 Q198 580.5 201.5 583 Q202.5 586 200 587.5"/>
<ellipse class="k" cx="228.6" cy="569.6" rx="1" ry="0.7"/>
<path class="pf" d="M136 543 Q138.5 540 144 541.2 Q152 543.5 160 549 L178 561 Q188 570 196 583 L206 597 Q209 600.5 212 601.6 Q204 600 190 591 L162 575 Q147 565 140.5 554 Q136.5 547 136 543 Z"/>
<ellipse class="p" cx="153" cy="552.4" rx="5.6" ry="2.2" transform="rotate(35 153 552.4)"/>
<ellipse class="p" cx="153" cy="562" rx="5.6" ry="2.2" transform="rotate(35 153 562)"/>
<ellipse class="p" cx="170.6" cy="563" rx="5.6" ry="2.2" transform="rotate(35 170.6 563)"/>
<ellipse class="p" cx="187.3" cy="582" rx="5.6" ry="2.2" transform="rotate(40 187.3 582)"/>
<ellipse class="t" cx="153.6" cy="552.8" rx="4" ry="1.2" transform="rotate(35 153.6 552.8)"/>
<ellipse class="t" cx="171" cy="563.4" rx="4" ry="1.2" transform="rotate(35 171 563.4)"/>
<ellipse class="t" cx="187.8" cy="582.4" rx="4" ry="1.2" transform="rotate(40 187.8 582.4)"/>
<path class="c" d="M166 566 L162 573 L158 580"/>
<ellipse class="pf" cx="157" cy="581.6" rx="2.6" ry="4.2" transform="rotate(-35 157 581.6)"/>
<ellipse class="t2" cx="157" cy="581.6" rx="1.17" ry="1.89" transform="rotate(-35 157 581.6)"/>
<path class="pf" d="M146.9 598.3 L148.2 596.7 A1.6 3.5 -50 0 0 142.8 592.2 L141.5 593.7"/>
<ellipse class="pf" cx="144.2" cy="596" rx="1.75" ry="3.5" transform="rotate(-49.6355 144.2 596)"/>
<path class="pf" d="M146.6 595.4 L152.1 589.0 L149.9 587.0 L144.4 593.5"/>
<path class="c" d="M228.4 602 L228.4 611"/>
<ellipse class="pf" cx="228.4" cy="613" rx="4" ry="2"/>
<ellipse class="p" cx="228.4" cy="612.8" rx="1.8" ry="0.9"/>
<path class="p" d="M226.8 618 L226.8 630 M230 618 L230 630"/>
<path class="pf" d="M224.6 630.5 A3.8 1.6 0 0 1 232.2 630.5 L232.2 632.8 A3.8 1.6 0 0 1 224.6 632.8 Z"/>
<path class="d" d="M720 312.4 L793 354 L772 393 L698 351 Z"/>
<path class="pf" d="M716.1 335.3 L716.9 336.1 A1.0 2.3 42 0 0 720.0 332.7 L719.1 331.9"/>
<ellipse class="pf" cx="717.6" cy="333.6" rx="1.15" ry="2.3" transform="rotate(42.2737 717.6 333.6)"/>
<path class="pf" d="M717.4 335.6 L725.3 342.8 L727.5 340.4 L719.6 333.2"/>
<path d="M733 328 L728 338" stroke="#111" stroke-width="1.6" fill="none" stroke-linecap="round"/>
<path class="pf" d="M731 352 L738 348 L744 350 L768 364 L769.2 367.2 L764 369.2 L742 361 L732 355 Z"/>
<path class="t" d="M744 351.0 L766 365.0 M742 361.0 L743.6 355.6"/>
<ellipse class="p" cx="738" cy="351.2" rx="1.4" ry="1.4"/>
<path class="pf" d="M762 378 L767 372 L772 375 L770 380 L765 382 Z"/>
<path class="p" d="M764.1 376.1 L768.1 377.6 M767.1 374.1 L766.1 380.1"/>
<path class="c" d="M726.4 341.6 L763.6 374.6"/>
<path class="pf" d="M647 384 Q647.5 381 650.5 380 L664 378 Q668 379 669 382 L670 387 L688 403 Q691 405.5 691 408 L684 432 Q682.5 437 679 437 Q675.5 437 675 434 L675.6 413 L666 404 L650 390 Z"/>
<path class="t" d="M650 390 L653.5 388.5 L669 402 L678 411.5 L691 408 M678 411.5 L677.5 433 M670 387 L667 388.5 L653.5 388.5"/>
<ellipse class="p" cx="651.4" cy="385" rx="1" ry="1.2"/>
<ellipse class="p" cx="658" cy="383.4" rx="1" ry="1.2"/>
<ellipse class="p" cx="665" cy="382" rx="1" ry="1.2"/>
<path class="p" d="M665 397 L673 393 L681 400 L673 404 Z"/>
<path class="t" d="M667 397.4 L673 394.6 L679 400"/>
<ellipse class="p" cx="682.4" cy="422.4" rx="1.2" ry="1.7" transform="rotate(20 682.4 422.4)"/>
<ellipse class="p" cx="679.6" cy="433" rx="1.1" ry="1.4"/>
<ellipse class="pf" cx="700" cy="412.6" rx="2.5" ry="3.5" transform="rotate(15 700 412.6)"/>
<ellipse class="t2" cx="700" cy="412.6" rx="1.125" ry="1.575" transform="rotate(15 700 412.6)"/>
<ellipse class="pf" cx="713" cy="411.4" rx="2.5" ry="3.5" transform="rotate(15 713 411.4)"/>
<ellipse class="t2" cx="713" cy="411.4" rx="1.125" ry="1.575" transform="rotate(15 713 411.4)"/>
<path class="pf" d="M747.3 436.6 L745.5 435.5 A1.4 3.0 -149 0 0 742.4 440.6 L744.3 441.8"/>
<ellipse class="pf" cx="745.8" cy="439.2" rx="1.5" ry="3" transform="rotate(-148.993 745.8 439.2)"/>
<path class="pf" d="M744.7 436.8 L727.3 426.3 L725.7 428.9 L743.1 439.4"/>
<path class="pf" d="M760.1 434.6 L758.2 433.5 A1.4 3.0 -151 0 0 755.2 438.7 L757.1 439.8"/>
<ellipse class="pf" cx="758.6" cy="437.2" rx="1.5" ry="3" transform="rotate(-150.514 758.6 437.2)"/>
<path class="pf" d="M757.4 434.8 L740.2 425.1 L738.8 427.7 L755.9 437.4"/>
<ellipse cx="800.8" cy="454.5" rx="3.6" ry="4.6" transform="rotate(20 800.8 454.5)" fill="#555" stroke="#222" stroke-width="1"/>
<ellipse class="pf" cx="802.5" cy="453.6" rx="3.2" ry="4.2" transform="rotate(20 802.5 453.6)"/>
<ellipse class="p" cx="803.1" cy="453.4" rx="1.7" ry="2.4" transform="rotate(20 803.1 453.4)"/>
<ellipse cx="746.2" cy="493.9" rx="3.6" ry="4.6" transform="rotate(20 746.2 493.9)" fill="#555" stroke="#222" stroke-width="1"/>
<ellipse class="pf" cx="747.9" cy="493" rx="3.2" ry="4.2" transform="rotate(20 747.9 493)"/>
<ellipse class="p" cx="748.5" cy="492.8" rx="1.7" ry="2.4" transform="rotate(20 748.5 492.8)"/>
<ellipse class="pf" cx="758.4" cy="499" rx="2.8" ry="3.8" transform="rotate(15 758.4 499)"/>
<ellipse class="t2" cx="758.4" cy="499" rx="1.26" ry="1.71" transform="rotate(15 758.4 499)"/>
<path class="pf" d="M770.5 498.5 L779.5 503.4 L775.8 517.8 L767 516 Q763.5 513.5 764.2 507.5 Q765.5 500.5 770.5 498.5 Z"/>
<ellipse class="pf" cx="777.6" cy="510.4" rx="4" ry="7" transform="rotate(12 777.6 510.4)"/>
<ellipse class="p" cx="777.8" cy="510.4" rx="2.2" ry="3.8" transform="rotate(12 777.8 510.4)"/>
<ellipse class="k" cx="777.9" cy="510.4" rx="1.2" ry="2.2" transform="rotate(12 777.9 510.4)"/>
<ellipse class="pf" cx="789.6" cy="517.8" rx="2.8" ry="3.5" transform="rotate(15 789.6 517.8)"/>
<ellipse class="pf" cx="790.4" cy="517.5" rx="2.5" ry="3.2" transform="rotate(15 790.4 517.5)"/>
<ellipse class="p" cx="790.6" cy="517.4" rx="1.3" ry="1.8" transform="rotate(15 790.6 517.4)"/>
<path class="pf" d="M799.2 522.2 L806 525 L805.6 530.6 L799 528.6"/>
<ellipse class="pf" cx="799.1" cy="525.4" rx="1.7" ry="3.2" transform="rotate(12 799.1 525.4)"/>
<path class="p" d="M806 525 A1.7 3 12 0 1 805.6 530.6"/>
<path class="pf" d="M821 472 L823 465.4 Q825 462.6 829 463.6 L838 467 Q844 474 848 482 L853 494 Q855 499 854 504 L850 520 L848 532 L850 538 L851 548 Q850.5 552.5 848 554 L840 557 L837 570 Q835.5 574 832 574 L822 571 Q818 569.5 819 566.5 L826 550 L829 540 L818 534 Q813.5 530 814 525 Q814.5 520.5 818 517.5 L829 510 Q831.5 504 831 498 L828 482 L824 473 Z"/>
<path class="t" d="M823 465.4 L826 468.5 L829 477 L833 496 L832 508 L829 510 M826 468.5 L821 472 M829 463.6 L830 467 L838 467 M830 467 L826 468.5"/>
<ellipse class="p" cx="835" cy="474" rx="3" ry="3.8" transform="rotate(25 835 474)"/>
<path class="p" d="M837 482 L843 483 L849 496 L842 504 L839 498 Z"/>
<path class="t" d="M839.5 484 L840.5 497 L842 504"/>
<path class="p" d="M836 514 L848 508 L850 518 L846 528 L837 526 Z"/>
<path class="t" d="M838 514.8 L838.8 524.4 L846 528"/>
<ellipse class="pf" cx="823" cy="526" rx="8" ry="8.6"/>
<ellipse class="p" cx="824.6" cy="526.6" rx="4.2" ry="5.8" transform="rotate(20 824.6 526.6)"/>
<path class="t" d="M820 522 Q823 519.5 827 521"/>
<path class="t" d="M829 540 L833 538 L840 541 L842 547 L840 557 M833 538 L836 532.5 L848 532 M829 540 L831 548 L826 562"/>
<ellipse class="p" cx="838" cy="549" rx="1.2" ry="1.6"/>
<ellipse class="p" cx="833" cy="565.6" rx="1.3" ry="1.7"/>
<path class="p" d="M842 540 Q848 541 849 546 Q849 551 844 553"/>
<path class="t" d="M843.5 543 L847 548"/>
<ellipse class="pf" cx="864.6" cy="491" rx="2.8" ry="3.8" transform="rotate(15 864.6 491)"/>
<ellipse class="t2" cx="864.6" cy="491" rx="1.26" ry="1.71" transform="rotate(15 864.6 491)"/>
<path class="pf" d="M889.4 500.3 L886.3 498.5 A1.7 3.8 -151 0 0 882.6 505.2 L885.8 506.9"/>
<ellipse class="pf" cx="887.6" cy="503.6" rx="1.9" ry="3.8" transform="rotate(-151.46 887.6 503.6)"/>
<path class="pf" d="M885.2 500.6 L876.9 496.1 L875.5 498.7 L883.7 503.2"/>
<path class="pf" d="M876.7 564.0 L875.1 563.1 A1.4 3.0 -151 0 0 872.2 568.4 L873.7 569.2"/>
<ellipse class="pf" cx="875.2" cy="566.6" rx="1.5" ry="3" transform="rotate(-150.998 875.2 566.6)"/>
<path class="pf" d="M874.3 564.5 L857.5 555.2 L856.1 557.6 L872.9 567.0"/>
<path class="pf" d="M855.4 595.2 L857.3 595.7 A1.2 2.6 14 0 0 858.6 590.7 L856.6 590.2"/>
<ellipse class="pf" cx="856" cy="592.7" rx="1.3" ry="2.6" transform="rotate(13.7608 856 592.7)"/>
<path class="pf" d="M857.6 594.5 L865.5 596.5 L866.1 593.7 L858.3 591.8"/>
<path class="p" d="M862.4 600.5 L860.6 604.5 L859.3 607.8"/>
<ellipse class="k" cx="874.4" cy="597.5" rx="3.2" ry="3.6"/>
<path class="p" d="M868.5 591 L877 598"/>
<path class="p" d="M877 589.5 L873 596"/>
<path class="pf" d="M889.7 581.6 L894 579 L898 582 L896 592 L888.7 607.8 L880.3 604.7 L886.6 590 Z"/>
<path class="t" d="M888.7 607.8 L890 601 L896.5 584"/>
<ellipse class="p" cx="893.3" cy="584" rx="1.1" ry="1.4"/>
<ellipse class="p" cx="888.7" cy="600" rx="1.1" ry="1.4"/>
<path class="pf" d="M903.4 590 Q904.5 586 907.6 585.8 Q911 586 911.8 589 L910.7 600.5 L918 605.7 L914 613 L906.5 615 L895 611 L900 598.4 Z"/>
<path class="t" d="M900 598.4 L906.5 601.5 L910.7 600.5 M906.5 601.5 L906.5 615"/>
<ellipse class="p" cx="908.3" cy="590.2" rx="1.3" ry="1.8"/>
<ellipse class="p" cx="904.2" cy="605.5" rx="1.1" ry="1.4"/>
<ellipse class="p" cx="913.6" cy="608" rx="1.1" ry="1.4"/>
<path class="pf" d="M934.1 602.5 L932.2 601.5 A1.4 3.0 -154 0 0 929.5 606.9 L931.5 607.9"/>
<ellipse class="pf" cx="932.8" cy="605.2" rx="1.5" ry="3" transform="rotate(-153.677 932.8 605.2)"/>
<path class="pf" d="M931.4 603.1 L923.9 599.3 L922.7 601.7 L930.3 605.4"/>
<path class="pf" d="M932.2 621.2 L930.2 620.1 A1.4 3.0 -151 0 0 927.3 625.4 L929.2 626.4"/>
<ellipse class="pf" cx="930.7" cy="623.8" rx="1.5" ry="3" transform="rotate(-150.945 930.7 623.8)"/>
<path class="pf" d="M929.4 621.6 L919.6 616.2 L918.4 618.4 L928.1 623.9"/>
<path class="pf" d="M949.5 629 L951.667 625.833 L953.833 627.067 L956 623.9 L958.167 625.133 L960.333 621.967 L962.5 623.2 L964.292 621.867 L966.083 625.333 L967.875 624 L969.667 627.467 L971.458 626.133 L973.25 629.6 L975.042 628.267 L976.833 631.733 L978.625 630.4 L980.417 633.867 L982.208 632.533 L984 636 L984.6 639.2 L981.5 642.8 L972 646.4 L962.4 645.8 L952.8 641.6 L946.2 635.6 Z"/>
<path class="p" d="M949.5 629 L951.292 628.167 L953.083 631.333 L954.875 630.5 L956.667 633.667 L958.458 632.833 L960.25 636 L962.042 635.167 L963.833 638.333 L965.625 637.5 L967.417 640.667 L969.208 639.833 L971 643"/>
<path class="p" d="M971 643 L973.167 639.833 L975.333 640.667 L977.5 637.5 L979.667 638.333 L981.833 635.167 L984 636"/>
<path class="p" d="M953.5 627.2 L955.333 626.5 L957.167 629.4 L959 628.7 L960.833 631.6 L962.667 630.9 L964.5 633.8 L966.333 633.1 L968.167 636 L970 635.3 L971.833 638.2 L973.667 637.5 L975.5 640.4"/>
<path class="p" d="M957.8 625.2 L959.617 624.483 L961.433 627.367 L963.25 626.65 L965.067 629.533 L966.883 628.817 L968.7 631.7 L970.517 630.983 L972.333 633.867 L974.15 633.15 L975.967 636.033 L977.783 635.317 L979.6 638.2"/>
<path class="p" d="M956 626 L962.5 632 M962 624 L969.5 637 M969.5 628 L976 640 M976 632 L980 641.5"/>
<path class="t" d="M971 643 L972 646.4 M960 637 L960.5 644.8 M953 632.5 L952.8 641.6 M965.5 640 L966 646"/>
<path class="pf" d="M949.5 629 L949.2 625 L945 624.4 L941.4 628 L937.2 635.8 L940.8 636.6 L946.2 635.6 L947.4 630.4 Z"/>
<path class="p" d="M945 624.4 L945.6 629 L942 636.3 M945.6 629 L949.5 629"/>
<ellipse class="k" cx="947" cy="632.4" rx="1" ry="1.6"/>
<ellipse class="pf" cx="531" cy="467.4" rx="3.8" ry="4"/>
<ellipse class="p" cx="531.6" cy="467.2" rx="1.8" ry="2"/>
<path class="t" d="M528.5 465 L530.5 468.5 L534 467"/>
<path d="M530.5 494.5 Q527.5 496.5 529.5 498.5 L544 490 M561 481 L571.5 475.2 Q573.5 473 571 472.2" fill="none" stroke="#222" stroke-width="1.3" stroke-linecap="round"/>
<path d="M544 490 L561 481" stroke="#1a1a1a" stroke-width="3" fill="none"/>
<path d="M535.5 503.5 Q531 505 533 508.5 Q534.5 510 537 508.5 L550 500 M569 488.8 L577 484.8 Q580 482 578.5 479 Q577 477 574.5 478.5" fill="none" stroke="#333" stroke-width="1.3" stroke-linecap="round"/>
<path d="M549.5 500.2 L569.5 488.6" stroke="#2a2a2a" stroke-width="5" fill="none"/>
<path class="pf" d="M596.7 539.4 L692.3 477.1 L697.6 484.7 L602.8 547.7 Z"/>
<ellipse class="pf" cx="696.6" cy="479.8" rx="3.6" ry="8" transform="rotate(-33 696.6 479.8)"/>
<ellipse class="p" cx="697.6" cy="479.2" rx="2.8" ry="7" transform="rotate(-33 697.6 479.2)"/>
<ellipse class="t" cx="698.2" cy="478.8" rx="1.7" ry="4.6" transform="rotate(-33 698.2 478.8)"/>
<path class="pf" d="M593.5 541.6 Q588 543 586.4 548 Q586 553.5 591 555.4 Q596 556.4 599.6 553 L602.8 547.7 L596.7 539.4 Z"/>
<path d="M593.5 541.8 Q588.4 543.4 587 548 Q586.6 553 591 555" fill="none" stroke="#222" stroke-width="1.8"/>
<ellipse class="p" cx="591.6" cy="549" rx="2.4" ry="2.6"/>
<ellipse class="p" cx="591.8" cy="549" rx="1.1" ry="1.2"/>
<path class="t" d="M596.7 539.4 Q599.4 543.6 599.2 548.6 M598.6 538.2 Q601.6 542.6 601.6 547.2"/>
<ellipse class="pf" cx="660.4" cy="503.7" rx="1.7" ry="1.9"/>
<ellipse class="pf" cx="664" cy="502.2" rx="1.9" ry="2.1"/>
<ellipse class="pf" cx="608.5" cy="559.9" rx="2.72" ry="3.4" transform="rotate(10 608.5 559.9)"/>
<ellipse class="pf" cx="609.5" cy="559.4" rx="2.108" ry="2.72" transform="rotate(10 609.5 559.4)"/>
<ellipse class="t" cx="609.8" cy="559.3" rx="1.02" ry="1.36" transform="rotate(10 609.8 559.3)"/>
<path class="pf" d="M624.8 549.1 L623.4 549.7 A1.2 2.7 157 0 0 625.4 554.7 L626.8 554.1"/>
<ellipse class="pf" cx="625.8" cy="551.6" rx="1.35" ry="2.7" transform="rotate(157.479 625.8 551.6)"/>
<path class="pf" d="M624.0 551.3 L617.2 554.1 L618.0 555.9 L624.8 553.1"/>
<path class="c" d="M568 434 L607 421 L574 557 L585 553.5"/>
<path class="c" d="M599 549 L598 563 L606 561.5"/>
<path class="c" d="M543 441.5 L540 456 L534 466"/>
<path class="c" d="M269 146.648 L457 255.312"/>
<path class="c" d="M493 276.12 L797 451.832"/>
<path class="c" d="M806 457.034 L876 497.494"/>
<path class="c" d="M311 178.845 L445 256.297"/>
<path class="c" d="M479 275.949 L739 426.229"/>
<path class="c" d="M298 180.018 L432 257.47"/>
<path class="c" d="M467 277.7 L727 427.98"/>
</g>
<g id="leaders">
<path class="l" d="M14 100.5 L25 99"/>
<path class="l" d="M96 96 L94 117.5"/>
<path class="l" d="M117.5 111 L112 156"/>
<path class="l" d="M138 127.5 L126 157.5"/>
<path class="l" d="M64 159 L84 137.5"/>
<path class="l" d="M99 180 L110 169"/>
<path class="l" d="M122.5 196 L137.5 176"/>
<path class="l" d="M144 206 L159 185"/>
<path class="l" d="M204 71 L197.5 101"/>
<path class="l" d="M226 85 L214.5 111"/>
<path class="l" d="M185.5 134 L212.5 140.5"/>
<path class="l" d="M283.8 120 L267.4 140"/>
<path class="l" d="M267.4 161 L248.3 152.8"/>
<path class="l" d="M254.7 179.2 L241.9 161"/>
<path class="l" d="M309.3 150 L296.4 175"/>
<path class="l" d="M309.3 150 L308.4 173.5"/>
<path class="l" d="M339.5 167.3 L324.8 191"/>
<path class="l" d="M339.5 167.3 L337.4 189.5"/>
<path class="l" d="M304.3 206.5 L333 220.5"/>
<path class="l" d="M405 147.3 L420 163.4"/>
<path class="l" d="M500 83 L518 99"/>
<path class="l" d="M594 76 L551 74.6"/>
<path class="l" d="M593 95 L551.5 99.4"/>
<path class="l" d="M593 111.4 L552.5 108"/>
<path class="l" d="M477 125.4 L521 133.4"/>
<path class="l" d="M477 140.4 L514 139.6"/>
<path class="l" d="M477 155 L484.5 157.6"/>
<path class="l" d="M564 174 L550.5 187"/>
<path class="l" d="M661.3 238 L680.5 245"/>
<path class="l" d="M335 257.5 L370 245.4"/>
<path class="l" d="M358.8 372.5 L351.5 353"/>
<path class="l" d="M166 312 L175 290"/>
<path class="l" d="M187 325 L196 299"/>
<path class="l" d="M209 339 L215 313"/>
<path class="l" d="M261 368 L275 350"/>
<path class="l" d="M282 381 L293 356"/>
<path class="l" d="M305 391 L309 369"/>
<path class="l" d="M460 326.3 L450.5 346.5"/>
<path class="l" d="M480 337.5 L471.3 356.3"/>
<path class="l" d="M502.5 351.3 L490.5 370.5"/>
<path class="l" d="M400 423 L397.6 404.5"/>
<path class="l" d="M210 417 L223 416.6"/>
<path class="l" d="M210 418 L228 432"/>
<path class="l" d="M236 452 L239 427.5"/>
<path class="l" d="M236 452 L243 445.5"/>
<path class="l" d="M260 466 L264 427"/>
<path class="l" d="M329 458.5 L300.5 457"/>
<path class="l" d="M329 458.5 L304 472.6"/>
<path class="l" d="M329 458.5 L352.6 481.2"/>
<path class="l" d="M329 458.5 L357.8 497.4"/>
<path class="l" d="M400 477 L390.5 484.5"/>
<path class="l" d="M378 520 L408 516.4"/>
<path class="l" d="M378 520.4 L402 526"/>
<path class="l" d="M389 536.4 L426 527"/>
<path class="l" d="M389 537 L419 537.6"/>
<path class="l" d="M137 488 L155 496"/>
<path class="l" d="M149 528 L169 538"/>
<path class="l" d="M282 525 L261.5 520"/>
<path class="l" d="M251 536 L231.5 529"/>
<path class="l" d="M288.5 580.4 L266 582.3"/>
<path class="l" d="M172 600 L159 583.5"/>
<path class="l" d="M166 614 L150 595.5"/>
<path class="l" d="M256 610.4 L233 613"/>
<path class="l" d="M255 628 L231 625"/>
<path class="l" d="M762 304 L748 328"/>
<path class="l" d="M659 411 L669 407.6"/>
<path class="l" d="M714 437 L701 416.5"/>
<path class="l" d="M714 437 L712.6 415.6"/>
<path class="l" d="M760 461 L747 442.5"/>
<path class="l" d="M760 461 L759.8 440.5"/>
<path class="l" d="M818 429 L805 451"/>
<path class="l" d="M801 488 L829 505"/>
<path class="l" d="M722 510 L745 496"/>
<path class="l" d="M740 520 L756.5 502"/>
<path class="l" d="M756 533 L769 514.5"/>
<path class="l" d="M779 545 L788.5 521"/>
<path class="l" d="M799 556 L802 529.5"/>
<path class="l" d="M870 524 L865 495.5"/>
<path class="l" d="M888 533.5 L880.5 503"/>
<path class="l" d="M904.4 557.4 L878 565.2"/>
<path class="l" d="M938 584.7 L930.5 600"/>
<path class="l" d="M984 616 L972.7 627.8"/>
<path class="l" d="M812 606.4 L853.5 594"/>
<path class="l" d="M834 616 L859 605.5"/>
<path class="l" d="M853 623.6 L873 599.6"/>
<path class="l" d="M866.6 633 L884.5 607.8"/>
<path class="l" d="M888.7 633 L902 614.2"/>
<path class="l" d="M912.8 633 L923.3 621.7"/>
<path class="l" d="M503 483 L527.5 469.5"/>
<path class="l" d="M508 509 L528 498"/>
<path class="l" d="M523 524 L533 510"/>
<path class="l" d="M627 478 L637 511"/>
<path class="l" d="M618 578 L611 562.5"/>
<path class="l" d="M642 576 L628 555.5"/>
</g>
<g id="labels">
<text x="8.3" y="105.69">7</text>
<text x="98.8" y="92.69">20</text>
<text x="122.3" y="108.69">18</text>
<text x="143.8" y="124.69">17</text>
<text x="57.8" y="171.19">21</text>
<text x="90.8" y="189.69">19</text>
<text x="120.3" y="208.69">6</text>
<text x="141.8" y="218.69">25</text>
<text x="207.8" y="68.69">28</text>
<text x="231.3" y="81.19">29</text>
<text x="181.3" y="137.69">4</text>
<text x="290.3" y="115.19">30</text>
<text x="275.2" y="170.89">26</text>
<text x="260.4" y="191.29">27</text>
<text x="313.4" y="145.09">35</text>
<text x="344.5" y="163.69">29</text>
<text x="297.5" y="206.59">16</text>
<text x="404.1" y="144.19">8</text>
<text x="494.4" y="80.69">31</text>
<text x="605.2" y="81.29">32</text>
<text x="605.2" y="99.09">43</text>
<text x="605.2" y="116.69">46</text>
<text x="468.2" y="129.69">46</text>
<text x="468.2" y="144.69">43</text>
<text x="468.2" y="159.69">32</text>
<text x="572.8" y="170.69">42</text>
<text x="688.8" y="252.49">1</text>
<text x="330.2" y="263.99">2</text>
<text x="362.1" y="386.19">2</text>
<text x="165.2" y="325.69">39</text>
<text x="187.8" y="338.09">38</text>
<text x="210.2" y="351.69">44</text>
<text x="259.8" y="380.69">44</text>
<text x="282.4" y="393.69">45</text>
<text x="304.8" y="405.69">39</text>
<text x="465.8" y="321.99">42</text>
<text x="485.8" y="333.19">40</text>
<text x="508.8" y="346.49">41</text>
<text x="405.2" y="436.19">42</text>
<text x="201.8" y="420.09">35</text>
<text x="234.8" y="466.69">29</text>
<text x="260.8" y="481.19">36</text>
<text x="334.4" y="453.69">37</text>
<text x="410.8" y="472.69">36</text>
<text x="369.8" y="525.09">29</text>
<text x="380.2" y="542.09">35</text>
<text x="129.2" y="488.69">48</text>
<text x="141.8" y="529.69">50</text>
<text x="294.8" y="533.09">49</text>
<text x="262.8" y="543.69">50</text>
<text x="299.3" y="585.09">47</text>
<text x="184.8" y="608.69">51</text>
<text x="175.8" y="625.69">52</text>
<text x="267.2" y="615.69">51</text>
<text x="267.2" y="634.09">52</text>
<text x="766.8" y="300.69">8</text>
<text x="649.8" y="419.29">24</text>
<text x="718.2" y="449.29">29</text>
<text x="763.4" y="475.09">33</text>
<text x="822.8" y="424.29">30</text>
<text x="796.2" y="490.09">3</text>
<text x="713.2" y="520.09">30</text>
<text x="735.2" y="532.69">29</text>
<text x="753.4" y="545.69">9</text>
<text x="779.4" y="558.29">11</text>
<text x="802.0" y="570.19">10</text>
<text x="872.3" y="537.19">29</text>
<text x="893.1" y="546.99">28</text>
<text x="918.8" y="560.39">34</text>
<text x="944.1" y="579.89">20</text>
<text x="991.8" y="614.59">7</text>
<text x="803.8" y="613.49">18</text>
<text x="826.8" y="626.09">19</text>
<text x="845.8" y="636.69">17</text>
<text x="864.3" y="647.09">25</text>
<text x="885.8" y="647.09">5</text>
<text x="910.5" y="647.09">21</text>
<text x="494.8" y="490.09">23</text>
<text x="498.8" y="516.09">14</text>
<text x="520.4" y="537.69">13</text>
<text x="629.2" y="473.69">12</text>
<text x="621.8" y="591.69">15</text>
<text x="648.8" y="589.29">22</text>
</g>
</svg>
</body></html>
